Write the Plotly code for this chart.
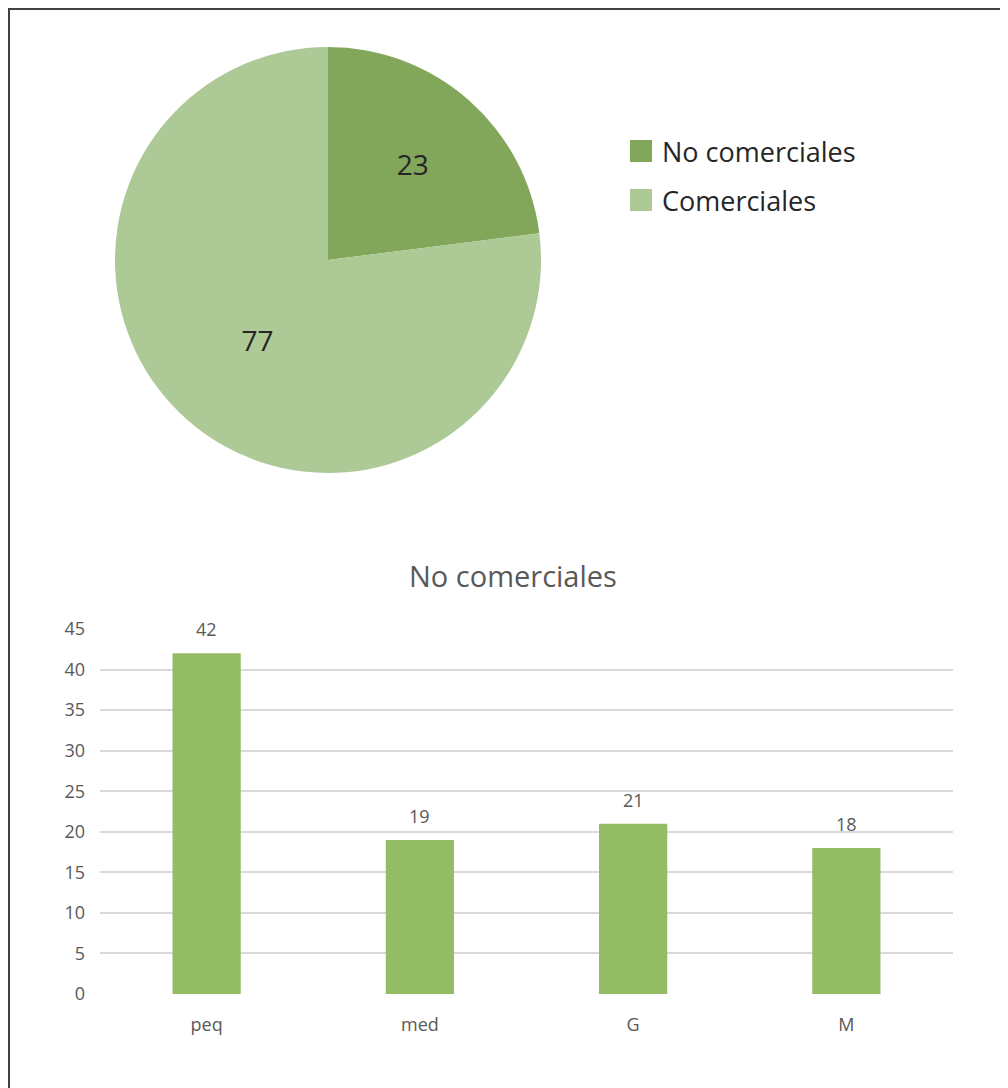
import plotly.graph_objects as go

W, H = 1008, 1088
OFF = 8  # page body margin

pie_labels = ["No comerciales", "Comerciales"]
pie_values = [23, 77]
pie_colors = ["#82A75B", "#ADC996"]

bar_title = "No comerciales"
bar_categories = ["peq", "med", "G", "M"]
bar_values = [42, 19, 21, 18]
bar_color = "#94BC65"
y_ticks = [0, 5, 10, 15, 20, 25, 30, 35, 40, 45]

FONT = "Open Sans"
TXT = "#595959"


def fx(px):
    return (px - OFF) / W


def fy(py):
    return 1 - (py - OFF) / H


fig = go.Figure()

fig.add_trace(go.Pie(
    labels=pie_labels, values=pie_values,
    marker=dict(colors=pie_colors, line=dict(width=0)),
    sort=False, direction="clockwise", rotation=0,
    textinfo="value", textposition="inside",
    insidetextorientation="horizontal",
    textfont=dict(family=FONT, size=28, color="#262626"),
    domain=dict(x=[fx(115), fx(541)], y=[fy(473), fy(47)]),
    showlegend=False,
    hoverinfo="label+value",
))

fig.add_trace(go.Bar(
    x=bar_categories, y=bar_values,
    marker=dict(color=bar_color, line=dict(width=0)),
    width=0.32,
    xaxis="x", yaxis="y",
    showlegend=False,
))

# data labels above bars, anchored to the data values
annotations = [
    dict(x=c, y=v, xref="x", yref="y", text=str(v), showarrow=False,
         yanchor="middle", yshift=24,
         font=dict(family=FONT, size=18, color=TXT))
    for c, v in zip(bar_categories, bar_values)
]
annotations.append(dict(
    text=bar_title, x=fx(513), y=fy(575), xref="paper", yref="paper",
    xanchor="center", yanchor="middle", showarrow=False,
    font=dict(family=FONT, size=29, color=TXT),
))

shapes = [dict(
    type="rect", xref="paper", yref="paper",
    x0=1 / W, x1=1.1, y0=-0.1, y1=fy(9),
    line=dict(color="#404040", width=2), layer="above",
)]

# legend for the pie
leg_top = 140
leg_step = 49
for i, (lab, col) in enumerate(zip(pie_labels, pie_colors)):
    t = leg_top + i * leg_step
    shapes.append(dict(
        type="rect", xref="paper", yref="paper",
        x0=fx(630), x1=fx(652), y0=fy(t + 22), y1=fy(t),
        fillcolor=col, line=dict(width=0),
    ))
    annotations.append(dict(
        text=lab, x=fx(660), y=fy(t + 11), xref="paper", yref="paper",
        xanchor="left", yanchor="middle", showarrow=False,
        font=dict(family=FONT, size=27, color="#262626"),
    ))

fig.update_layout(
    width=W, height=H,
    autosize=False,
    margin=dict(l=0, r=0, t=0, b=0, pad=0, autoexpand=False),
    paper_bgcolor="white", plot_bgcolor="white",
    font=dict(family=FONT, color=TXT),
    showlegend=False,
    xaxis=dict(
        domain=[fx(100), fx(953)], anchor="y",
        showgrid=False, showline=False, zeroline=False,
        ticks="", tickfont=dict(family=FONT, size=18, color=TXT),
        ticklabelstandoff=18, automargin=False,
    ),
    yaxis=dict(
        domain=[fy(994), fy(629)], anchor="x",
        range=[0, 45], tickvals=y_ticks,
        showgrid=True, gridcolor="#D9D9D9", gridwidth=2,
        zeroline=False, showline=False, ticks="",
        tickfont=dict(family=FONT, size=18, color=TXT),
        ticklabelstandoff=14, automargin=False,
    ),
    annotations=annotations,
    shapes=shapes,
)

fig.write_html("out.html")
